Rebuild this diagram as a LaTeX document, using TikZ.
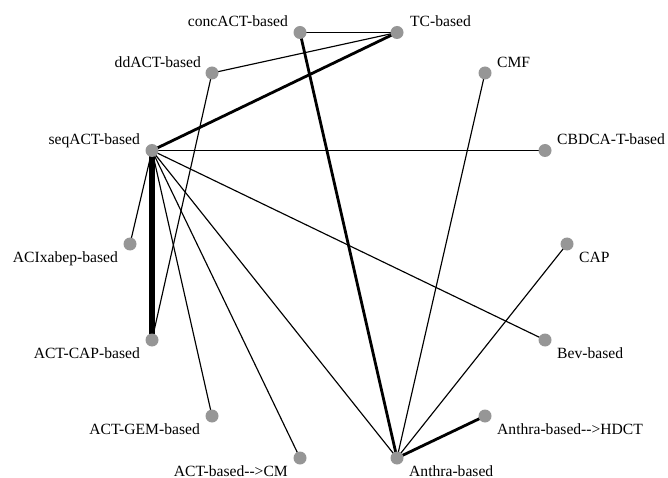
\documentclass[tikz,border=0pt]{standalone}
\usepackage{fontspec}
\setmainfont{Liberation Serif}[Ligatures=TeXOff]
\usetikzlibrary{backgrounds}
\definecolor{dotgray}{RGB}{150,150,150}
\begin{document}
\begin{tikzpicture}[x=1bp,y=-1bp,
  dot/.style={circle,fill=dotgray,draw=none,minimum size=13bp,inner sep=0pt},
  thinedge/.style={line width=1.15bp,black},
  midedge/.style={line width=2.8bp,black},
  heavyedge/.style={line width=6.5bp,black},
  lbl/.style={inner sep=0pt,font=\fontsize{15.6bp}{18bp}\selectfont}]
\useasboundingbox (0,0) rectangle (668,478);
% nodes
\node[dot] (conc) at (300,32.5) {};
\node[dot] (tc) at (397,32.5) {};
\node[dot] (dd) at (212,73) {};
\node[dot] (cmf) at (485,73) {};
\node[dot] (seq) at (152,150.5) {};
\node[dot] (cbdca) at (545,150.5) {};
\node[dot] (acix) at (130,244) {};
\node[dot] (cap) at (567,244) {};
\node[dot] (actcap) at (152,340) {};
\node[dot] (bev) at (545,340) {};
\node[dot] (actgem) at (212,416) {};
\node[dot] (hdct) at (485,416) {};
\node[dot] (actcm) at (300,458) {};
\node[dot] (anthra) at (397,458) {};
% edges
\begin{scope}[on background layer]
\draw[thinedge] (conc.center) -- (tc.center);
\draw[thinedge] (dd.center) -- (tc.center);
\draw[thinedge] (dd.center) -- (actcap.center);
\draw[thinedge] (seq.center) -- (cbdca.center);
\draw[thinedge] (seq.center) -- (acix.center);
\draw[thinedge] (seq.center) -- (actgem.center);
\draw[thinedge] (seq.center) -- (actcm.center);
\draw[thinedge] (seq.center) -- (anthra.center);
\draw[thinedge] (seq.center) -- (bev.center);
\draw[thinedge] (cmf.center) -- (anthra.center);
\draw[thinedge] (cap.center) -- (anthra.center);
\draw[midedge] (conc.center) -- (anthra.center);
\draw[midedge] (seq.center) -- (tc.center);
\draw[midedge] (anthra.center) -- (hdct.center);
\draw[heavyedge] (seq.center) -- (actcap.center);
\end{scope}
% labels
\node[lbl,anchor=base east] (lconc) at (288,27) {concACT-based};
\node[lbl,anchor=base west] (ltc) at (410,27) {TC-based};
\node[lbl,anchor=base east] (ldd) at (201,68) {ddACT-based};
\node[lbl,anchor=base west] (lcmf) at (497,68) {CMF};
\node[lbl,anchor=base east] (lseq) at (140,145) {seqACT-based};
\node[lbl,anchor=base west] (lcbdca) at (557,145) {CBDCA-T-based};
\node[lbl,anchor=base east] (lacix) at (118,263) {ACIxabep-based};
\node[lbl,anchor=base west] (lcap) at (579,263) {CAP};
\node[lbl,anchor=base east] (lactcap) at (140,358) {ACT-CAP-based};
\node[lbl,anchor=base west] (lbev) at (557,358) {Bev-based};
\node[lbl,anchor=base east] (lactgem) at (200,434) {ACT-GEM-based};
\node[lbl,anchor=base west] (lhdct) at (497,434) {Anthra-based-->HDCT};
\node[lbl,anchor=base east] (lactcm) at (288,476) {ACT-based-->CM};
\node[lbl,anchor=base west] (lanthra) at (409,476) {Anthra-based};
\end{tikzpicture}
\end{document}
